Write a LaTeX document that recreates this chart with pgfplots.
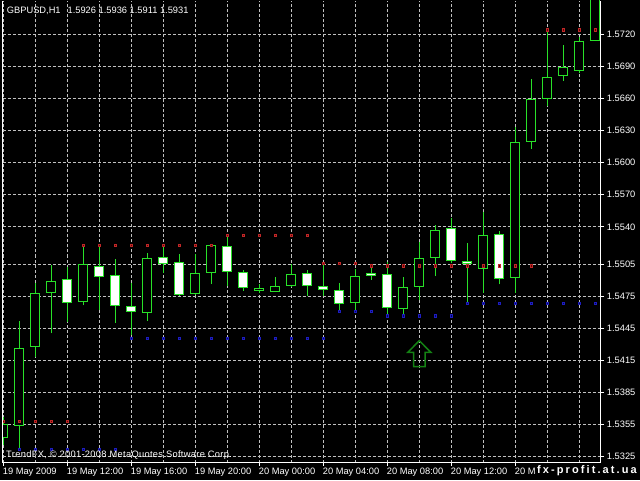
\documentclass[border=0pt]{standalone}
\usepackage{fontspec}
\setmainfont{Liberation Sans}
\newfontfamily\wmfont[LetterSpace=19]{Liberation Sans}
\newfontfamily\cpfont[LetterSpace=3.5]{Liberation Sans}
\usepackage{pgfplots}
\pgfplotsset{compat=1.18}

\definecolor{cgreen}{RGB}{40,225,40}
\definecolor{gridc}{RGB}{192,192,192}
\definecolor{rdot}{RGB}{190,40,40}
\definecolor{rdotin}{RGB}{100,0,0}
\definecolor{bdot}{RGB}{30,30,190}
\definecolor{bdotin}{RGB}{0,0,100}
\definecolor{arrowc}{RGB}{20,130,20}

\pgfdeclareplotmark{uparrow}{%
  \pgfpathmoveto{\pgfpoint{0pt}{0pt}}%
  \pgfpathlineto{\pgfpoint{11.5pt}{-11.6pt}}%
  \pgfpathlineto{\pgfpoint{5.8pt}{-11.6pt}}%
  \pgfpathlineto{\pgfpoint{5.8pt}{-26pt}}%
  \pgfpathlineto{\pgfpoint{-5.8pt}{-26pt}}%
  \pgfpathlineto{\pgfpoint{-5.8pt}{-11.6pt}}%
  \pgfpathlineto{\pgfpoint{-11.5pt}{-11.6pt}}%
  \pgfpathclose
  \pgfusepathqstroke
}

% \candle{index}{open}{high}{low}{close}
\newcommand{\candle}[5]{%
  \pgfmathsetmacro\xl{#1-0.29}%
  \pgfmathsetmacro\xr{#1+0.29}%
  \addplot[cgreen, line width=1pt, mark=none] coordinates {(#1,#4) (#1,#3)};
  \ifdim #5pt>#2pt
    \addplot[draw=cgreen, fill=black, line width=1pt, mark=none] coordinates {(\xl,#2) (\xr,#2) (\xr,#5) (\xl,#5)} -- cycle;
  \else
    \addplot[draw=cgreen, fill=white, line width=1pt, mark=none] coordinates {(\xl,#2) (\xr,#2) (\xr,#5) (\xl,#5)} -- cycle;
  \fi
}

\begin{document}
\begin{tikzpicture}
\fill[black] (-2.7pt,-17.5pt) rectangle (637.3pt,462.5pt);
\useasboundingbox (-2.7pt,-17.5pt) rectangle (637.3pt,462.5pt);
\begin{axis}[
  at={(0pt,0pt)}, anchor=south west,
  scale only axis, width=598pt, height=461.5pt,
  xmin=-0.0375, xmax=37.3375,
  ymin=1.531919, ymax=1.575157,
  axis line style={draw=none},
  tick style={white, line width=1pt},
  tick align=outside,
  major tick length=3.5pt,
  minor tick length=0pt,
  xtick={0,4,8,12,16,20,24,28,32},
  xticklabels={19 May 2009,19 May 12:00,19 May 16:00,19 May 20:00,20 May 00:00,20 May 04:00,20 May 08:00,20 May 12:00,20 May 16:00},
  minor xtick={2,6,10,14,18,22,26,30,34,36},
  xtick pos=bottom,
  ytick={1.5325,1.5355,1.5385,1.5415,1.5445,1.5475,1.5505,1.5540,1.5570,1.5600,1.5630,1.5660,1.5690,1.5720},
  ytick pos=right, yticklabel pos=right,
  scaled y ticks=false,
  xmajorgrids=true, xminorgrids=true, ymajorgrids=true,
  major grid style={gridc, dash pattern=on 3pt off 2pt, line width=1pt},
  minor grid style={gridc, dash pattern=on 3pt off 2pt, line width=1pt},
  xticklabel style={anchor=north west, inner sep=0pt, xshift=-0.6pt, yshift=-2.3pt, text=white, font=\fontsize{9.3}{11}\selectfont},
  yticklabel style={anchor=west, inner sep=0pt, xshift=2.5pt, text=white, font=\fontsize{9.3}{11}\selectfont,
    /pgf/number format/.cd, fixed, fixed zerofill, precision=4, assume math mode=true},
]
\candle{0}{1.53428}{1.53621}{1.53356}{1.53550}
\candle{1}{1.53543}{1.54518}{1.53300}{1.54262}
\candle{2}{1.54277}{1.54871}{1.54183}{1.54777}
\candle{3}{1.54787}{1.55042}{1.54402}{1.54890}
\candle{4}{1.54908}{1.55026}{1.54511}{1.54693}
\candle{5}{1.54702}{1.55220}{1.54663}{1.55049}
\candle{6}{1.55026}{1.55208}{1.54621}{1.54936}
\candle{7}{1.54946}{1.55099}{1.54502}{1.54665}
\candle{8}{1.54653}{1.54871}{1.54387}{1.54609}
\candle{9}{1.54599}{1.55158}{1.54520}{1.55105}
\candle{10}{1.55114}{1.55211}{1.54965}{1.55058}
\candle{11}{1.55068}{1.55150}{1.54752}{1.54768}
\candle{12}{1.54777}{1.55145}{1.54761}{1.54965}
\candle{13}{1.54974}{1.55230}{1.54864}{1.55227}
\candle{14}{1.55214}{1.55321}{1.54846}{1.54986}
\candle{15}{1.54974}{1.54991}{1.54802}{1.54833}
\candle{16}{1.54802}{1.54860}{1.54780}{1.54820}
\candle{17}{1.54796}{1.54933}{1.54794}{1.54843}
\candle{18}{1.54848}{1.55052}{1.54833}{1.54955}
\candle{19}{1.54965}{1.54995}{1.54752}{1.54850}
\candle{20}{1.54843}{1.55058}{1.54752}{1.54813}
\candle{21}{1.54803}{1.54874}{1.54621}{1.54683}
\candle{22}{1.54693}{1.55005}{1.54605}{1.54936}
\candle{23}{1.54965}{1.55024}{1.54905}{1.54946}
\candle{24}{1.54955}{1.55073}{1.54562}{1.54647}
\candle{25}{1.54632}{1.54933}{1.54586}{1.54834}
\candle{26}{1.54839}{1.55261}{1.54714}{1.55105}
\candle{27}{1.55113}{1.55417}{1.54939}{1.55370}
\candle{28}{1.55380}{1.55480}{1.55058}{1.55082}
\candle{29}{1.55078}{1.55251}{1.54698}{1.55052}
\candle{30}{1.55010}{1.55539}{1.54780}{1.55322}
\candle{31}{1.55330}{1.55359}{1.54860}{1.54916}
\candle{32}{1.54927}{1.56338}{1.54780}{1.56192}
\candle{33}{1.56201}{1.56785}{1.56132}{1.56595}
\candle{34}{1.56598}{1.57244}{1.56532}{1.56801}
\candle{35}{1.56820}{1.57104}{1.56769}{1.56888}
\candle{36}{1.56863}{1.57176}{1.56838}{1.57138}
\candle{37}{1.57144}{1.57700}{1.57140}{1.57600}

% TrendFX resistance dots
\addplot[only marks, mark=square*, mark size=1.25pt, mark options={draw=rdot, fill=rdotin, line width=0.7pt}] coordinates {
(0,1.53576) (1,1.53576) (2,1.53576) (3,1.53576) (4,1.53576)
(5,1.55227) (6,1.55227) (7,1.55227) (8,1.55227) (9,1.55227) (10,1.55227) (11,1.55227) (12,1.55227) (13,1.55227)
(14,1.55321) (15,1.55321) (16,1.55321) (17,1.55321) (18,1.55321) (19,1.55321)
(20,1.55056) (21,1.55056) (22,1.55056)
(23,1.55033) (24,1.55033) (25,1.55033) (26,1.55033) (27,1.55033) (28,1.55033) (29,1.55033) (30,1.55033) (31,1.55033) (32,1.55033) (33,1.55033)
(34,1.57244) (35,1.57244) (36,1.57244) (37,1.57244)
};
% TrendFX support dots
\addplot[only marks, mark=square*, mark size=1.25pt, mark options={draw=bdot, fill=bdotin, line width=0.7pt}] coordinates {
(1,1.53316) (2,1.53316) (3,1.53316) (4,1.53316) (5,1.53316) (6,1.53316) (7,1.53316)
(8,1.54356) (9,1.54356) (10,1.54356) (11,1.54356) (12,1.54356) (13,1.54356) (14,1.54356) (15,1.54356) (16,1.54356) (17,1.54356) (18,1.54356) (19,1.54356) (20,1.54356)
(21,1.54609) (22,1.54609) (23,1.54609)
(24,1.54565) (25,1.54565) (26,1.54565) (27,1.54565) (28,1.54565)
(29,1.54684) (30,1.54684) (31,1.54684) (32,1.54684) (33,1.54684) (34,1.54684) (35,1.54684) (36,1.54684) (37,1.54684)
};
% buy signal arrow
\addplot[only marks, mark=uparrow, mark options={draw=arrowc, line width=1.5pt}] coordinates {(26,1.54333)};
\end{axis}
\draw[white, line width=1pt] (0pt,461.5pt) -- (0pt,0pt) -- (598pt,0pt) -- (598pt,461.5pt);
\node[anchor=base west, inner sep=0pt, text=white, font=\fontsize{9.3}{11}\selectfont] at (4pt,448.5pt) {GBPUSD,H1\hspace{7pt}1.5926 1.5936 1.5911 1.5931};
\node[anchor=base west, inner sep=0pt, text=white, font=\cpfont\fontsize{9.3}{11}\selectfont] at (3.3pt,5pt) {TrendFX, © 2001-2008 MetaQuotes Software Corp.};
\node[anchor=base west, inner sep=1pt, fill=black, text=white, font=\wmfont\bfseries\fontsize{11}{13}\selectfont] at (533.3pt,-11pt) {fx-profit.at.ua};
\end{tikzpicture}
\end{document}
